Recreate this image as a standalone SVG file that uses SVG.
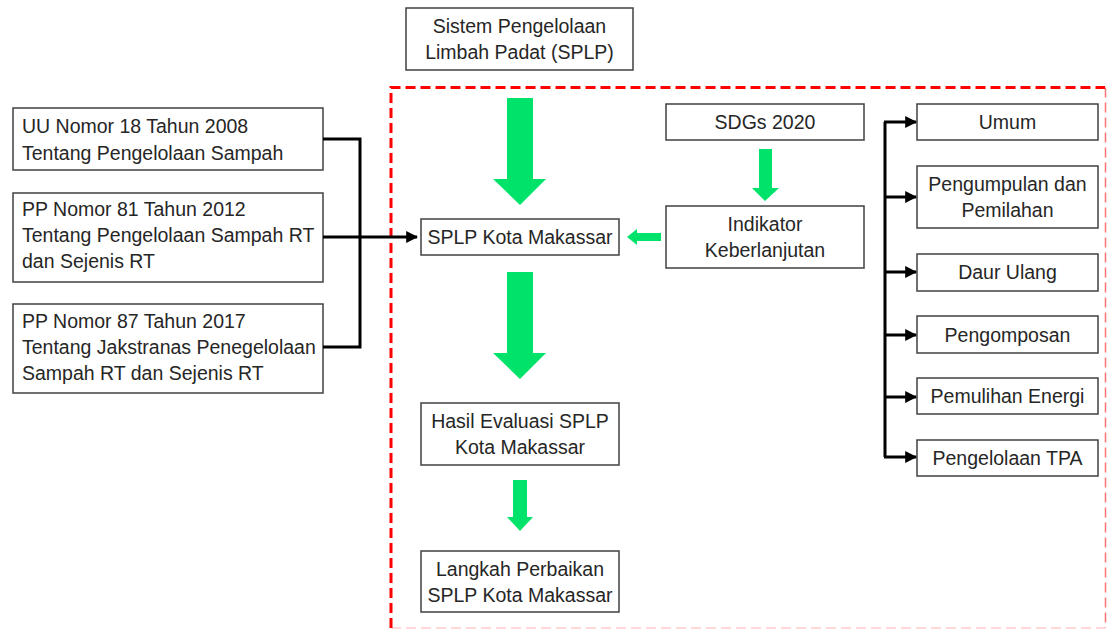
<svg xmlns="http://www.w3.org/2000/svg" width="1107" height="629" viewBox="0 0 1107 629">
<defs>
<style>
.box{fill:#fff;stroke:#404040;stroke-width:1.5}
.t{font-family:"Liberation Sans",Arial,sans-serif;font-size:19.5px;fill:#262626}
.c{text-anchor:middle}
.ln{fill:none;stroke:#000;stroke-width:3}
.g{fill:#00E36B}
.dash{fill:none;stroke:#FF0000;stroke-dasharray:10,5}
</style>
<marker id="ah" viewBox="0 0 10 10" refX="9" refY="5" markerWidth="4" markerHeight="4" orient="auto" markerUnits="strokeWidth">
<path d="M0,0 L10,5 L0,10 Z" fill="#000"/>
</marker>
</defs>
<rect width="1107" height="629" fill="#fff"/>
<path class="dash" stroke-width="3" d="M391,628 L391,87.5 L1105,87.5"/>
<path class="dash" stroke-width="1.5" stroke-opacity="0.55" d="M1105.5,87.5 L1105.5,628"/>
<path class="dash" stroke-width="1.5" stroke-opacity="0.2" d="M391,628 L1105,628"/>

<g id="n-uu"><rect class="box" x="13" y="108" width="310" height="62"/>
<text class="t" x="22" y="133">UU Nomor 18 Tahun 2008</text><text class="t" x="22" y="160">Tentang Pengelolaan Sampah</text></g>
<g id="n-pp81"><rect class="box" x="13" y="193" width="310" height="89"/>
<text class="t" x="22" y="216">PP Nomor 81 Tahun 2012</text><text class="t" x="22" y="242">Tentang Pengelolaan Sampah RT</text><text class="t" x="22" y="268">dan Sejenis RT</text></g>
<g id="n-pp87"><rect class="box" x="13" y="304" width="310" height="89"/>
<text class="t" x="22" y="328">PP Nomor 87 Tahun 2017</text><text class="t" x="22" y="354">Tentang Jakstranas Penegelolaan</text><text class="t" x="22" y="380">Sampah RT dan Sejenis RT</text></g>

<g id="n-splp"><rect class="box" x="406" y="8" width="227" height="62"/>
<text class="t c" x="519.5" y="33">Sistem Pengelolaan</text><text class="t c" x="519.5" y="59">Limbah Padat (SPLP)</text></g>
<g id="n-splpkota"><rect class="box" x="421" y="219" width="198" height="36"/>
<text class="t c" x="520" y="244">SPLP Kota Makassar</text></g>
<g id="n-sdgs"><rect class="box" x="666" y="104" width="198" height="36"/>
<text class="t c" x="765" y="129">SDGs 2020</text></g>
<g id="n-indikator"><rect class="box" x="666" y="206" width="198" height="62"/>
<text class="t c" x="765" y="231">Indikator</text><text class="t c" x="765" y="257">Keberlanjutan</text></g>
<g id="n-hasil"><rect class="box" x="421" y="403" width="198" height="62"/>
<text class="t c" x="520" y="428">Hasil Evaluasi SPLP</text><text class="t c" x="520" y="454">Kota Makassar</text></g>
<g id="n-langkah"><rect class="box" x="421" y="551" width="198" height="61"/>
<text class="t c" x="520" y="576">Langkah Perbaikan</text><text class="t c" x="520" y="602">SPLP Kota Makassar</text></g>

<g id="n-umum"><rect class="box" x="917" y="104" width="181" height="36"/><text class="t c" x="1007.5" y="129">Umum</text></g>
<g id="n-pengumpulan"><rect class="box" x="917" y="166" width="181" height="62"/><text class="t c" x="1007.5" y="191">Pengumpulan dan</text><text class="t c" x="1007.5" y="217">Pemilahan</text></g>
<g id="n-daur"><rect class="box" x="917" y="254" width="181" height="37"/><text class="t c" x="1007.5" y="279">Daur Ulang</text></g>
<g id="n-kompos"><rect class="box" x="917" y="316" width="181" height="37"/><text class="t c" x="1007.5" y="342">Pengomposan</text></g>
<g id="n-energi"><rect class="box" x="917" y="378" width="181" height="36"/><text class="t c" x="1007.5" y="403">Pemulihan Energi</text></g>
<g id="n-tpa"><rect class="box" x="917" y="440" width="181" height="36"/><text class="t c" x="1007.5" y="465">Pengelolaan TPA</text></g>

<g id="connectors">
<polyline class="ln" points="323,139 360,139 360,347 323,347"/>
<line class="ln" x1="323" y1="237" x2="417" y2="237" marker-end="url(#ah)"/>
<line class="ln" x1="885" y1="122" x2="885" y2="457"/>
<line class="ln" x1="884" y1="122" x2="916" y2="122" marker-end="url(#ah)"/>
<line class="ln" x1="884" y1="197" x2="916" y2="197" marker-end="url(#ah)"/>
<line class="ln" x1="884" y1="272" x2="916" y2="272" marker-end="url(#ah)"/>
<line class="ln" x1="884" y1="335" x2="916" y2="335" marker-end="url(#ah)"/>
<line class="ln" x1="884" y1="397" x2="916" y2="397" marker-end="url(#ah)"/>
<line class="ln" x1="884" y1="457" x2="916" y2="457" marker-end="url(#ah)"/>
<polygon class="g" points="507,98 533,98 533,179 546,179 520,205 493,179 507,179"/>
<polygon class="g" points="759,149 772,149 772,188 779,188 765,201 752,188 759,188"/>
<polygon class="g" points="661,233 637,233 637,229 627,237 637,245 637,241 661,241"/>
<polygon class="g" points="507,272 533,272 533,353 546,353 520,379 493,353 507,353"/>
<polygon class="g" points="513,480 527,480 527,517 533,517 520,531 507,517 513,517"/>
</g>
</svg>
